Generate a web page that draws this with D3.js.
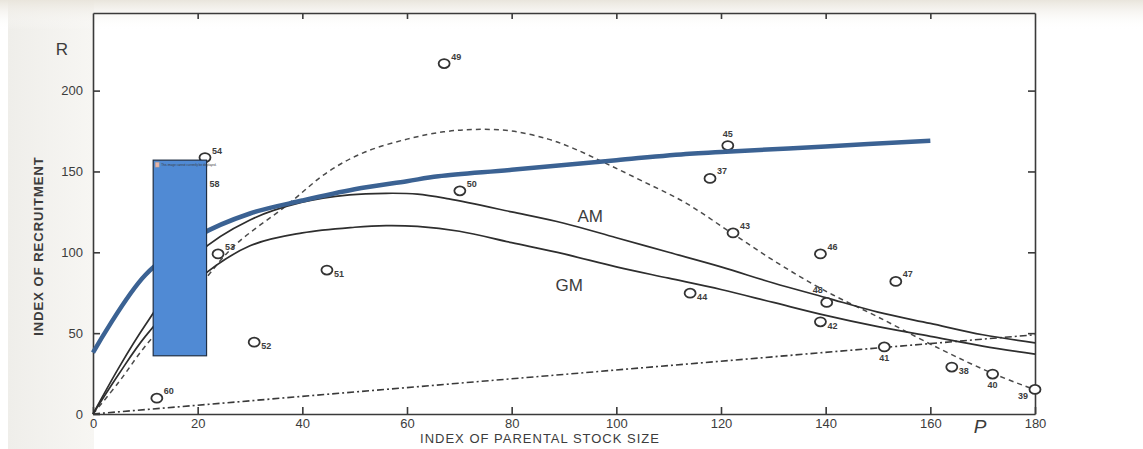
<!DOCTYPE html>
<html>
<head>
	<script src="https://cdn.jsdelivr.net/npm/d3@7"></script>
	<style>
		html, body {
			padding: 0;
			margin: 0;
			background: white;
		}
		text {
			font-family: "Liberation Sans", Arial, sans-serif;
			fill: #3c3c3c;
		}
	</style>
</head>
<body>
	<div id="chart"></div>

	<script>
		// ---- data ----
		var xTicks = [0, 20, 40, 60, 80, 100, 120, 140, 160, 180];
		var yTicks = [0, 50, 100, 150, 200];

		// observed stock / recruitment pairs, labelled by year
		var obsYear = ["60", "54", "58", "53", "51", "52", "49", "50", "45", "37", "43", "44", "46", "47", "48", "42", "41", "38", "40", "39", ""];
		var obsP    = [12.2, 21.4, 19, 23.9, 44.7, 30.8, 67.1, 70.1, 121.3, 117.9, 122.3, 114.1, 139, 153.4, 140.2, 139, 151.2, 164.1, 171.9, 180, 20.5];
		var obsR    = [9.8, 158.6, 143, 99, 89, 44.4, 216.7, 138, 166, 145.7, 112, 74.7, 99, 82, 69, 57, 41.5, 29, 24.7, 15.2, 63];
		// where each year label sits
		var obsLabelPos = ["sup", "sup", "right", "sup", "sub", "sub", "sup", "sup", "above", "sup", "sup", "sub", "sup", "sup", "upleft", "sub", "below", "sub", "below", "lowleft", "sup"];

		// AM curve
		var amP = [0, 5, 10, 20, 30, 40, 49, 56, 62, 68, 80, 90, 100, 110, 120, 130, 140, 150, 160, 170, 180];
		var amR = [0, 29, 55, 99, 120, 131, 135.5, 136.5, 136, 133, 125, 118, 109, 100, 91, 81, 72, 63, 56, 49, 44];

		// GM curve
		var gmP = [0, 5, 10, 20, 30, 40, 50, 56, 62, 70, 80, 90, 100, 110, 120, 130, 140, 150, 160, 170, 180];
		var gmR = [0, 25, 48, 83, 104, 112, 115.5, 116.5, 116, 113, 106, 99, 91, 84, 77, 69, 61, 54, 48, 42, 37];

		// dashed curve
		var dashP = [0, 5, 10, 20, 27, 37, 45, 52, 60, 67, 73, 80, 87, 92, 98, 105, 113, 122, 131, 140, 150, 162, 172, 180];
		var dashR = [0, 20, 42, 78, 104, 129, 150, 162, 170, 174.5, 176, 175, 170, 164, 155, 144, 131, 112, 93, 76, 60, 40, 25, 15];

		// replacement line (dot-dash)
		var replP = [0, 180];
		var replR = [0, 49];

		// blue overlay curve
		var blueP = [0, 10, 20, 30, 40, 50, 60, 66, 80, 100, 114, 120, 140, 160];
		var blueR = [38, 86, 110, 124, 132, 139, 144, 147, 151, 157, 161, 162, 165.5, 169];

		// blue placeholder box, in data units
		var boxP = [11.5, 21.7];
		var boxR = [36, 157];

		var width = 1143, height = 449;

		var svg = d3.select("#chart").append("svg")
			.attr("width", width)
			.attr("height", height);

		// scanned-paper tint
		var defs = svg.append("defs");
		var g1 = defs.append("linearGradient").attr("id", "topTint")
			.attr("x1", 0).attr("y1", 0).attr("x2", 0).attr("y2", 1);
		g1.append("stop").attr("offset", "0%").attr("stop-color", "#e9e5dc");
		g1.append("stop").attr("offset", "100%").attr("stop-color", "#ffffff").attr("stop-opacity", 0);
		var g2 = defs.append("linearGradient").attr("id", "leftTint")
			.attr("x1", 0).attr("y1", 0).attr("x2", 1).attr("y2", 0);
		g2.append("stop").attr("offset", "0%").attr("stop-color", "#efeeea");
		g2.append("stop").attr("offset", "100%").attr("stop-color", "#f7f6f3");

		svg.append("rect").attr("x", 8).attr("y", 0).attr("width", 86).attr("height", height)
			.attr("fill", "url(#leftTint)");
		svg.append("rect").attr("x", 0).attr("y", 0).attr("width", width).attr("height", 30)
			.attr("fill", "url(#topTint)");

		var x = d3.scaleLinear().domain([0, 180]).range([93, 1035]);
		var y = d3.scaleLinear().domain([0, 248]).range([414, 13]);

		// frame + inward ticks
		var axisColor = "#3a3a3a";
		function styleAxis(g) {
			g.select(".domain").attr("stroke", axisColor).attr("stroke-width", 1.6);
			g.selectAll(".tick line").attr("stroke", axisColor).attr("stroke-width", 1.6);
			g.selectAll(".tick text")
				.style("font-family", "'Liberation Sans', Arial, sans-serif")
				.style("font-size", "13px")
				.attr("fill", "#4a4a4a");
		}

		svg.append("g")
			.attr("transform", "translate(0," + y(0) + ")")
			.call(d3.axisBottom(x).tickValues(xTicks).tickSizeInner(-7).tickSizeOuter(0).tickPadding(5)
				.tickFormat(d3.format("d")))
			.call(styleAxis);

		svg.append("g")
			.attr("transform", "translate(0," + y(248) + ")")
			.call(d3.axisTop(x).tickValues(xTicks.slice(1, -1)).tickSizeInner(-6).tickSizeOuter(0).tickFormat(""))
			.call(styleAxis);

		svg.append("g")
			.attr("transform", "translate(" + x(0) + ",0)")
			.call(d3.axisLeft(y).tickValues(yTicks).tickSizeInner(-7).tickSizeOuter(0).tickPadding(10))
			.call(styleAxis);

		svg.append("g")
			.attr("transform", "translate(" + x(180) + ",0)")
			.call(d3.axisRight(y).tickValues(yTicks.slice(1)).tickSizeInner(-7).tickSizeOuter(0).tickFormat(""))
			.call(styleAxis);

		// axis titles
		svg.append("text")
			.attr("x", 540).attr("y", 443)
			.attr("text-anchor", "middle")
			.style("font-size", "13px")
			.style("letter-spacing", "1px")
			.text("INDEX OF PARENTAL STOCK SIZE");

		svg.append("text")
			.attr("transform", "translate(43,246) rotate(-90)")
			.attr("text-anchor", "middle")
			.style("font-size", "13px")
			.style("font-weight", "bold")
			.style("letter-spacing", "1px")
			.text("INDEX OF RECRUITMENT");

		svg.append("text")
			.attr("x", 62).attr("y", 55)
			.attr("text-anchor", "middle")
			.style("font-size", "17px")
			.text("R");

		svg.append("text")
			.attr("x", x(169.5)).attr("y", 433)
			.attr("text-anchor", "middle")
			.style("font-size", "19px")
			.style("font-style", "italic")
			.text("P");

		// curves
		function curveLine(ps, rs) {
			return d3.line()
				.x(function(d, i) { return x(ps[i]); })
				.y(function(d, i) { return y(rs[i]); })
				.curve(d3.curveCatmullRom.alpha(0.5))(ps);
		}

		svg.append("path").attr("d", curveLine(replP, replR))
			.attr("fill", "none").attr("stroke", "#3a3a3a").attr("stroke-width", 1.6)
			.attr("stroke-dasharray", "7,3,2,3");

		svg.append("path").attr("d", curveLine(dashP, dashR))
			.attr("fill", "none").attr("stroke", "#4a4a4a").attr("stroke-width", 1.5)
			.attr("stroke-dasharray", "5,4");

		svg.append("path").attr("d", curveLine(amP, amR))
			.attr("fill", "none").attr("stroke", "#2e2e2e").attr("stroke-width", 1.7);

		svg.append("path").attr("d", curveLine(gmP, gmR))
			.attr("fill", "none").attr("stroke", "#2e2e2e").attr("stroke-width", 1.7);

		svg.append("text").attr("x", x(95)).attr("y", y(119))
			.attr("text-anchor", "middle").style("font-size", "17px").text("AM");
		svg.append("text").attr("x", x(91)).attr("y", y(76))
			.attr("text-anchor", "middle").style("font-size", "17px").text("GM");

		// observations
		var obs = obsP.map(function(p, i) {
			return {p: p, r: obsR[i], year: obsYear[i], pos: obsLabelPos[i]};
		});

		var pts = svg.selectAll("g.obs")
			.data(obs)
			.enter().append("g")
			.attr("class", "obs")
			.attr("transform", function(d) { return "translate(" + x(d.p) + "," + y(d.r) + ")"; });

		pts.append("ellipse")
			.attr("rx", 5.5).attr("ry", 4.5)
			.attr("fill", "white")
			.attr("stroke", "#333")
			.attr("stroke-width", 1.8);

		var offs = {
			sup: [7, -4, "start"],
			sub: [7, 7, "start"],
			right: [17, 4, "start"],
			above: [0, -9, "middle"],
			below: [0, 14, "middle"],
			upleft: [-4, -9, "end"],
			lowleft: [-7, 10, "end"]
		};

		pts.append("text")
			.attr("x", function(d) { return offs[d.pos][0]; })
			.attr("y", function(d) { return offs[d.pos][1]; })
			.attr("text-anchor", function(d) { return offs[d.pos][2]; })
			.style("font-size", "9px")
			.style("font-weight", "bold")
			.attr("fill", "#555")
			.text(function(d) { return d.year; });

		// blue overlay curve
		svg.append("path").attr("d", curveLine(blueP, blueR))
			.attr("fill", "none").attr("stroke", "#3b6293").attr("stroke-width", 4.5)
			.attr("stroke-linecap", "butt");

		// blue placeholder box
		svg.append("rect")
			.attr("x", x(boxP[0])).attr("y", y(boxR[1]))
			.attr("width", x(boxP[1]) - x(boxP[0]))
			.attr("height", y(boxR[0]) - y(boxR[1]))
			.attr("fill", "#508ad4")
			.attr("stroke", "#1f2f44")
			.attr("stroke-width", 1.2);

		svg.append("rect")
			.attr("x", x(boxP[0]) + 2).attr("y", y(boxR[1]) + 2)
			.attr("width", 4).attr("height", 5)
			.attr("fill", "#e8b4a8").attr("stroke", "#999").attr("stroke-width", 0.5);

		svg.append("text")
			.attr("x", x(boxP[0]) + 8).attr("y", y(boxR[1]) + 6)
			.style("font-size", "3px")
			.attr("fill", "#222")
			.text("This image cannot currently be displayed.");
	</script>
</body>
</html>
